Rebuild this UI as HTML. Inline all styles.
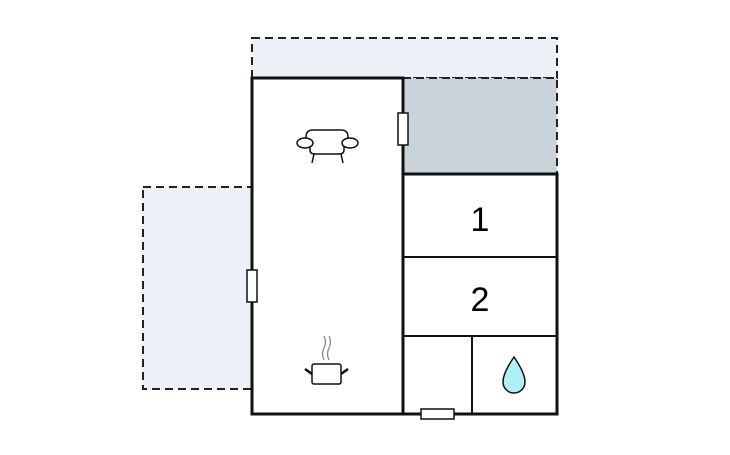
<!DOCTYPE html>
<html><head><style>body{margin:0;background:#fff}</style></head><body>
<svg width="730" height="450" xmlns="http://www.w3.org/2000/svg" font-family="Liberation Sans, sans-serif">
<rect x="252" y="38" width="305" height="40" fill="#ecf1f8" stroke="#222" stroke-width="2" stroke-dasharray="8,5"/>
<rect x="403" y="78" width="154" height="96" fill="#c8d3da" stroke="#222" stroke-width="2" stroke-dasharray="8,5"/>
<rect x="143" y="187" width="109" height="202" fill="#ecf1f8" stroke="#222" stroke-width="2" stroke-dasharray="8,5"/>
<rect x="252" y="78" width="151" height="336" fill="#fff" stroke="#111" stroke-width="3"/>
<rect x="403" y="174" width="154" height="240" fill="#fff" stroke="#111" stroke-width="3"/>
<line x1="403" y1="257" x2="557" y2="257" stroke="#111" stroke-width="2"/>
<line x1="403" y1="336" x2="557" y2="336" stroke="#111" stroke-width="2"/>
<line x1="472" y1="336" x2="472" y2="414" stroke="#111" stroke-width="2"/>
<text x="480" y="231" font-size="34" text-anchor="middle">1</text>
<text x="480" y="311" font-size="34" text-anchor="middle">2</text>
<rect x="398" y="113" width="10" height="32" fill="#fff" stroke="#111" stroke-width="1.5"/>
<rect x="247" y="270" width="10" height="32" fill="#fff" stroke="#111" stroke-width="1.5"/>
<rect x="421" y="409" width="33" height="10" fill="#fff" stroke="#111" stroke-width="1.5"/>
<g fill="#fff" stroke="#111" stroke-width="1.5">
<path d="M306 145 L306 137 Q306 130 313 130 L341 130 Q348 130 348 137 L348 145"/>
<path d="M310 145 L310 150 Q310 154 315 154 L339 154 Q344 154 344 150 L344 145"/>
<line x1="314" y1="154" x2="312" y2="163"/><line x1="341" y1="154" x2="343" y2="163"/>
<ellipse cx="305" cy="143" rx="8" ry="5"/><ellipse cx="350" cy="143" rx="8" ry="5"/>
<rect x="312" y="364" width="29" height="20" rx="2"/>
<line x1="305" y1="369" x2="312" y2="374" stroke-width="2.5"/><line x1="348" y1="369" x2="341" y2="374" stroke-width="2.5"/>
</g>
<g fill="none" stroke="#888" stroke-width="1.3">
<path d="M324 360 q-3 -6 0 -12 q3 -6 0 -12"/><path d="M329 360 q-3 -6 0 -12 q3 -6 0 -12"/>
</g>
<path d="M514 357 Q503 373 503 382 A11 11 0 0 0 525 382 Q525 373 514 357 Z" fill="#aef0f5" stroke="#111" stroke-width="1.5"/>
</svg>
</body></html>
